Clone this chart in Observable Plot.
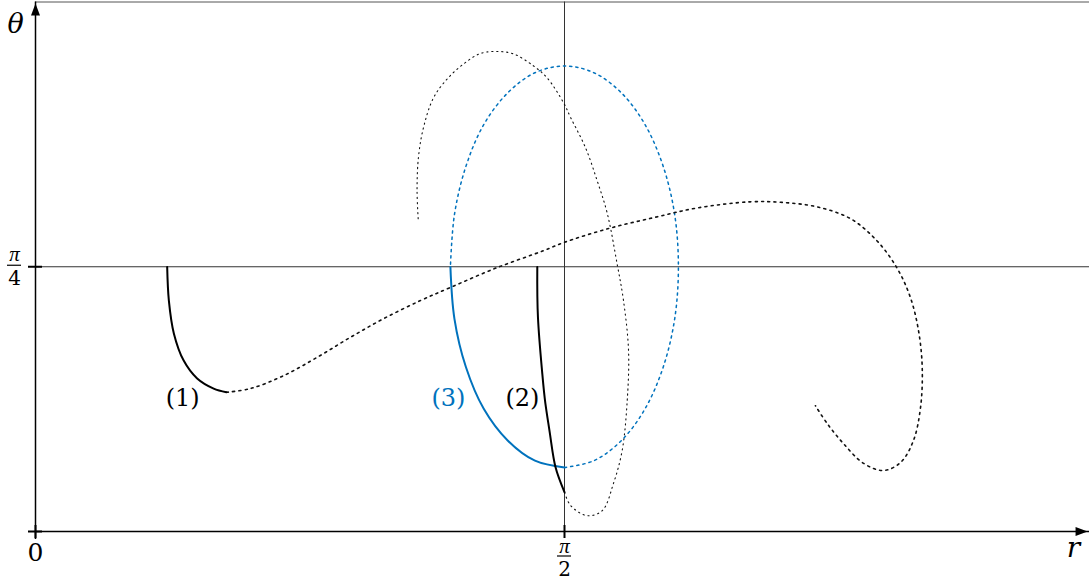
<!DOCTYPE html>
<html><head><meta charset="utf-8">
<script src="https://cdn.jsdelivr.net/npm/d3@7"></script>
<script src="https://cdn.jsdelivr.net/npm/@observablehq/plot@0.6"></script>
<style>body{margin:0;background:#fff} svg{display:block;overflow:hidden}</style>
</head><body><div id="chart"></div>
<script>
const PI = Math.PI;
// [r, theta] points
const curve1Solid = [[0.391,0.785],[0.396,0.685],[0.411,0.587],[0.440,0.507],[0.480,0.454],[0.529,0.424],[0.567,0.413]];
const curve1Dotted = [[0.567,0.413],[0.638,0.424],[0.736,0.462],[0.837,0.517],[0.935,0.576],[1.033,0.631],[1.143,0.685],[1.232,0.724],[1.371,0.783],[1.508,0.833],[1.568,0.857],[1.699,0.898],[1.835,0.931],[1.966,0.960],[2.123,0.978],[2.221,0.976],[2.321,0.963],[2.420,0.928],[2.499,0.862],[2.559,0.780],[2.598,0.694],[2.622,0.596],[2.633,0.487],[2.628,0.368],[2.607,0.270],[2.569,0.205],[2.518,0.181],[2.459,0.202],[2.399,0.261],[2.351,0.320],[2.316,0.373]];
const curve2Solid = [[1.490,0.785],[1.492,0.635],[1.504,0.478],[1.514,0.380],[1.529,0.280],[1.544,0.191],[1.571,0.116]];
const curve2Dotted = [[1.571,0.116],[1.589,0.077],[1.638,0.047],[1.683,0.062],[1.716,0.142],[1.742,0.240],[1.757,0.388],[1.761,0.536],[1.746,0.685],[1.727,0.794],[1.698,0.943],[1.668,1.040],[1.633,1.139],[1.589,1.228],[1.568,1.272],[1.519,1.346],[1.479,1.381],[1.419,1.417],[1.371,1.424],[1.321,1.418],[1.271,1.387],[1.223,1.343],[1.182,1.287],[1.152,1.198],[1.137,1.109],[1.133,1.011],[1.137,0.917]];
const curve3Solid = [[1.232,0.785],[1.244,0.631],[1.278,0.488],[1.331,0.364],[1.402,0.270],[1.483,0.210],[1.571,0.190]];
const curve3Dotted = [[1.571,0.190],[1.658,0.210],[1.740,0.270],[1.810,0.364],[1.864,0.488],[1.898,0.631],[1.909,0.785],[1.898,0.940],[1.864,1.083],[1.810,1.207],[1.740,1.301],[1.658,1.361],[1.571,1.381],[1.483,1.361],[1.402,1.301],[1.331,1.207],[1.278,1.083],[1.244,0.940],[1.232,0.785]];

const curveLabels = ["(1)", "(2)", "(3)"];
const labelR = [0.437, 1.446, 1.226];
const labelTheta = [0.394, 0.394, 0.394];
const labelColors = ["black", "black", "#0072bd"];

const xTicks = [0, PI/2];
const yTicks = [0, PI/4];
const rMax = PI, thetaMax = PI/2;

const rows = pts => pts.map(([r, t]) => ({r, t}));
const serif = "DejaVu Serif";
const mathFont = "Liberation Serif";
const blue = "#0072bd";
const arrowHead = {draw(ctx) { ctx.moveTo(0, 0); ctx.lineTo(-4.5, 12); ctx.lineTo(4.5, 12); ctx.closePath(); }};
const labels = curveLabels.map((s, i) => ({s, r: labelR[i], t: labelTheta[i], c: labelColors[i]}));

const chart = Plot.plot({
  width: 1089, height: 584, margin: 0,
  x: {type: "linear", domain: [0, PI/2], range: [35, 564], axis: null},
  y: {type: "linear", domain: [0, PI/2], range: [531, 1.5], axis: null},
  marks: [
    Plot.ruleY([thetaMax], {x1: 0, x2: rMax, stroke: "#555", strokeWidth: 1}),
    Plot.ruleY([PI/4], {x1: 0, x2: rMax, stroke: "#333", strokeWidth: 1}),
    Plot.ruleX([PI/2], {y1: 0, y2: thetaMax, stroke: "#333", strokeWidth: 1}),
    Plot.line(rows(curve2Dotted), {x: "r", y: "t", curve: "catmull-rom", stroke: "#111", strokeWidth: 1.1, strokeDasharray: "1.2,3.8"}),
    Plot.line(rows(curve3Dotted), {x: "r", y: "t", curve: "catmull-rom", stroke: blue, strokeWidth: 1.5, strokeDasharray: "2.2,4"}),
    Plot.line(rows(curve1Dotted), {x: "r", y: "t", curve: "catmull-rom", stroke: "#111", strokeWidth: 1.6, strokeDasharray: "2,4.3"}),
    Plot.line(rows(curve3Solid), {x: "r", y: "t", curve: "catmull-rom", stroke: blue, strokeWidth: 2}),
    Plot.line(rows(curve1Solid), {x: "r", y: "t", curve: "catmull-rom", stroke: "black", strokeWidth: 2}),
    Plot.line(rows(curve2Solid), {x: "r", y: "t", curve: "natural", stroke: "black", strokeWidth: 2}),
    // axes
    Plot.ruleX([0], {y1: 0, y2: thetaMax, stroke: "black", strokeWidth: 1.5, insetTop: 8}),
    Plot.ruleY([0], {x1: 0, x2: rMax, stroke: "black", strokeWidth: 1.5}),
    Plot.dot([0], {x: 0, y: thetaMax, symbol: arrowHead, fill: "black", stroke: null, dy: 1.5}),
    Plot.dot([0], {x: 3.124, y: 0, symbol: arrowHead, fill: "black", stroke: null, rotate: 90}),
    Plot.ruleX(xTicks, {y1: 0, y2: 0, insetTop: -6, insetBottom: -7, stroke: "black", strokeWidth: 2}),
    Plot.ruleY(yTicks, {x1: 0, x2: 0, insetLeft: -7, insetRight: -7, stroke: "black", strokeWidth: 2}),
    // tick labels
    Plot.text(["0"], {x: 0, y: 0, dy: 21, text: d => d, fontSize: 25, fontFamily: serif}),
    Plot.text(["π"], {x: PI/2, y: 0, dy: 15, text: d => d, fontSize: 21, fontStyle: "italic", fontFamily: mathFont}),
    Plot.ruleY([0], {x1: PI/2, x2: PI/2, insetLeft: -7, insetRight: -7, dy: 24.5, stroke: "black", strokeWidth: 1.2}),
    Plot.text(["2"], {x: PI/2, y: 0, dy: 38, text: d => d, fontSize: 20, fontFamily: serif}),
    Plot.text(["π"], {x: 0, y: PI/4, dx: -21, dy: -12, text: d => d, fontSize: 21, fontStyle: "italic", fontFamily: mathFont}),
    Plot.ruleY([PI/4], {x1: 0, x2: 0, insetLeft: -28, insetRight: 14, dy: -1.5, stroke: "black", strokeWidth: 1.2}),
    Plot.text(["4"], {x: 0, y: PI/4, dx: -21, dy: 11.5, text: d => d, fontSize: 20, fontFamily: serif}),
    // axis names
    Plot.text(["θ"], {x: 0, y: thetaMax, dx: -20, dy: 22, text: d => d, fontSize: 27, fontStyle: "italic", fontFamily: serif}),
    Plot.text(["r"], {x: rMax, y: 0, dx: -20, dy: 17, text: d => d, fontSize: 28, fontStyle: "italic", fontFamily: serif}),
    // curve labels
    Plot.text(labels, {x: "r", y: "t", text: "s", fill: "c", fontSize: 24, fontFamily: serif})
  ]
});
document.getElementById("chart").appendChild(chart);
</script>
</body></html>
